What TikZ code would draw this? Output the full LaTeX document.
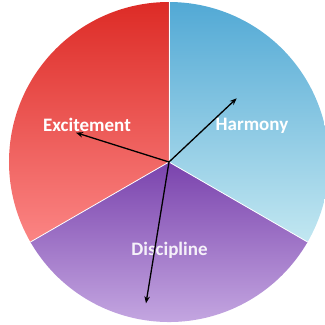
\documentclass[tikz,border=0pt]{standalone}
\usepackage{fontspec}
\setmainfont{Carlito}
\usetikzlibrary{arrows.meta}
\definecolor{redtop}{HTML}{DD2B26}
\definecolor{redbot}{HTML}{FB8584}
\definecolor{bluetop}{HTML}{52A9D5}
\definecolor{bluebot}{HTML}{C2E7F1}
\definecolor{purtop}{HTML}{7A43AD}
\definecolor{purbot}{HTML}{CEB4E8}
\tikzset{
  lbl/.style={text=white, font=\bfseries\fontsize{19}{21}\selectfont, inner sep=0pt},
  sep/.style={draw=white, line width=0.8pt},
  ptr/.style={draw=black, line width=1.3pt, -{Stealth[length=7pt,width=5.5pt]}},
}
\begin{document}
\begin{tikzpicture}[x=1pt,y=1pt]
\useasboundingbox (0,0) rectangle (325,325);
\clip (0,0) rectangle (325,325);
\coordinate (c) at (169,163);
\def\R{160}
% sectors
\shade[top color=redtop, bottom color=redbot] (c) -- ++(90:\R) arc[start angle=90, end angle=210, radius=\R] -- cycle;
\shade[top color=purtop, bottom color=purbot] (c) -- ++(210:\R) arc[start angle=210, end angle=330, radius=\R] -- cycle;
\shade[top color=bluetop, bottom color=bluebot] (c) -- ++(330:\R) arc[start angle=330, end angle=450, radius=\R] -- cycle;
% separators
\path (c) ++(90:\R) coordinate (s1);
\path (c) ++(210:\R) coordinate (s2);
\path (c) ++(330:\R) coordinate (s3);
\draw[sep] (c) -- (s1);
\draw[sep] (c) -- (s2);
\draw[sep] (c) -- (s3);
% labels
\node[lbl] (exc) at (87,200) {Excitement};
\node[lbl] (har) at (252,199.5) {Harmony};
\node[lbl, text opacity=0.9] (dis) at (169.5,75) {Discipline};
% arrows
\coordinate (e) at (76,192.3);
\coordinate (h) at (236.7,226.7);
\coordinate (d) at (146,21.7);
\draw[ptr] (c) -- (e);
\draw[ptr] (c) -- (h);
\draw[ptr] (c) -- (d);
\end{tikzpicture}
\end{document}
